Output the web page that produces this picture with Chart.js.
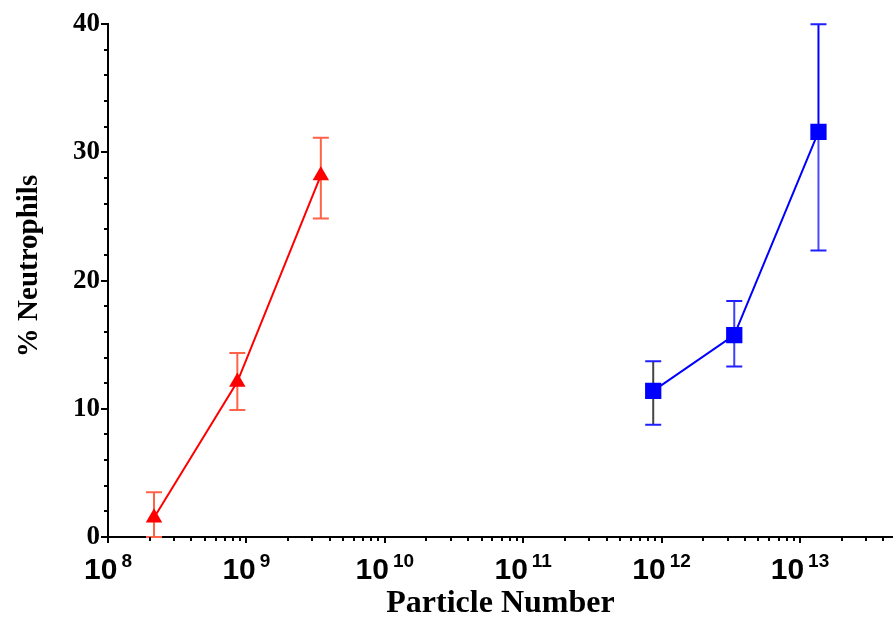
<!DOCTYPE html>
<html>
<head>
<meta charset="utf-8">
<script src="https://cdn.jsdelivr.net/npm/chart.js@4"></script>
<style>
  html, body { margin: 0; padding: 0; background: #fff; }
  #wrap { width: 893px; height: 624px; }
</style>
</head>
<body>
<div id="wrap"><canvas id="chart" width="893" height="624"></canvas></div>
<script>
// particle number vs % neutrophils
const redX = [2.15e8, 8.6e8, 3.45e9];
const redY = [1.5, 12.1, 28.2];
const redLow = [0, 9.9, 24.85];
const redHigh = [3.5, 14.35, 31.15];

const blueX = [8.7e11, 3.35e12, 1.36e13];
const blueY = [11.4, 15.75, 31.6];
const blueLow = [8.75, 13.3, 22.35];
const blueHigh = [13.7, 18.4, 40];

const xExponents = [8, 9, 10, 11, 12, 13];
const yTicks = [0, 10, 20, 30, 40];

// error bars, drawn under the markers
const errorBars = {
    id: 'errorBars',
    beforeDatasetsDraw(chart) {
        const ctx = chart.ctx;
        const xs = chart.scales.x, ys = chart.scales.y;

        function bar(xv, lo, hi, capColor, stemColor, lowColor) {
            const px = xs.getPixelForValue(xv);
            const pLo = ys.getPixelForValue(lo);
            const pHi = ys.getPixelForValue(hi);
            const pMid = ys.getPixelForValue((lo + hi) / 2);
            ctx.lineWidth = 2;
            ctx.strokeStyle = stemColor;
            ctx.beginPath();
            ctx.moveTo(px, pHi);
            ctx.lineTo(px, pMid);
            ctx.stroke();
            ctx.strokeStyle = lowColor || stemColor;
            ctx.beginPath();
            ctx.moveTo(px, pMid);
            ctx.lineTo(px, pLo);
            ctx.stroke();
            ctx.strokeStyle = capColor;
            ctx.beginPath();
            ctx.moveTo(px - 8, pHi);
            ctx.lineTo(px + 8, pHi);
            ctx.moveTo(px - 8, pLo);
            ctx.lineTo(px + 8, pLo);
            ctx.stroke();
        }

        ctx.save();
        redX.forEach((x, i) => bar(x, redLow[i], redHigh[i], '#ff6347', '#ff6347'));
        const stems = ['#444444', '#4040ff', '#0000ff'];
        const lows = ['#444444', '#4040ff', '#4a4aff'];
        blueX.forEach((x, i) => bar(x, blueLow[i], blueHigh[i], '#2020ff', stems[i], lows[i]));
        ctx.restore();
    }
};

// tick marks, x labels with exponents, y title
const axisDecor = {
    id: 'axisDecor',
    afterDraw(chart) {
        const ctx = chart.ctx;
        const xs = chart.scales.x, ys = chart.scales.y;
        const area = chart.chartArea;
        ctx.save();
        ctx.strokeStyle = '#000';
        ctx.lineWidth = 2;
        ctx.beginPath();
        xExponents.forEach(e => {
            for (let m = 1; m <= 9; m++) {
                const v = m * Math.pow(10, e);
                if (v > xs.max) break;
                const px = Math.round(xs.getPixelForValue(v));
                ctx.moveTo(px, area.bottom);
                ctx.lineTo(px, area.bottom + (m === 1 ? 6 : 4));
            }
        });
        for (let v = 0; v <= 40; v += 2) {
            const py = Math.round(ys.getPixelForValue(v));
            ctx.moveTo(area.left, py);
            ctx.lineTo(area.left - (v % 10 === 0 ? 7 : 4), py);
        }
        ctx.stroke();

        ctx.fillStyle = '#000';
        ctx.textBaseline = 'alphabetic';
        ctx.textAlign = 'left';
        xExponents.forEach(e => {
            const px = xs.getPixelForValue(Math.pow(10, e));
            ctx.font = 'bold 30px "Liberation Sans", Arial, sans-serif';
            const wb = ctx.measureText('10').width;
            ctx.font = 'bold 19px "Liberation Sans", Arial, sans-serif';
            const ws = ctx.measureText(String(e)).width;
            const start = px - (wb + 4 + ws) / 2;
            ctx.font = 'bold 30px "Liberation Sans", Arial, sans-serif';
            ctx.fillText('10', start, 579);
            ctx.font = 'bold 19px "Liberation Sans", Arial, sans-serif';
            ctx.fillText(String(e), start + wb + 4, 567);
        });

        ctx.translate(30, 266);
        ctx.rotate(-Math.PI / 2);
        ctx.textAlign = 'center';
        ctx.textBaseline = 'middle';
        ctx.font = 'bold 29px "Liberation Serif", "Times New Roman", serif';
        ctx.fillText('% Neutrophils', 0, 0);
        ctx.restore();
    }
};

new Chart(document.getElementById('chart'), {
    type: 'line',
    data: {
        datasets: [{
            data: redX.map((x, i) => ({ x: x, y: redY[i] })),
            borderColor: '#ff0000',
            backgroundColor: '#ff0000',
            borderWidth: 2,
            pointStyle: 'triangle',
            pointRadius: 9.5,
            pointBorderWidth: 0,
            tension: 0
        }, {
            data: blueX.map((x, i) => ({ x: x, y: blueY[i] })),
            borderColor: '#0000ff',
            backgroundColor: '#0000ff',
            borderWidth: 2,
            pointStyle: 'rect',
            pointRadius: 11.5,
            pointBorderWidth: 0,
            tension: 0
        }]
    },
    options: {
        responsive: false,
        animation: false,
        layout: { autoPadding: false, padding: { top: 23, right: 0, left: 0, bottom: 0 } },
        plugins: {
            legend: { display: false },
            tooltip: { enabled: false }
        },
        scales: {
            x: {
                type: 'logarithmic',
                position: 'bottom',
                min: 1e8,
                max: 4.7e13,
                grid: { display: false, drawTicks: false },
                border: { display: true, color: '#000', width: 2 },
                ticks: { display: false },
                title: {
                    display: true,
                    text: 'Particle Number',
                    color: '#000',
                    font: { family: '"Liberation Serif", "Times New Roman", serif', size: 32, weight: 'bold' },
                    padding: { top: 0, bottom: 1 }
                },
                afterFit(scale) { scale.height = 87; }
            },
            y: {
                type: 'linear',
                min: 0,
                max: 40,
                grid: { display: false, drawTicks: false },
                border: { display: true, color: '#000', width: 2 },
                afterBuildTicks(scale) {
                    scale.ticks = yTicks.map(v => ({ value: v }));
                },
                ticks: {
                    color: '#000',
                    padding: 8,
                    font: { family: '"Liberation Serif", "Times New Roman", serif', size: 27, weight: 'bold' }
                },
                afterFit(scale) { scale.width = 108; }
            }
        }
    },
    plugins: [errorBars, axisDecor]
});
</script>
</body>
</html>
